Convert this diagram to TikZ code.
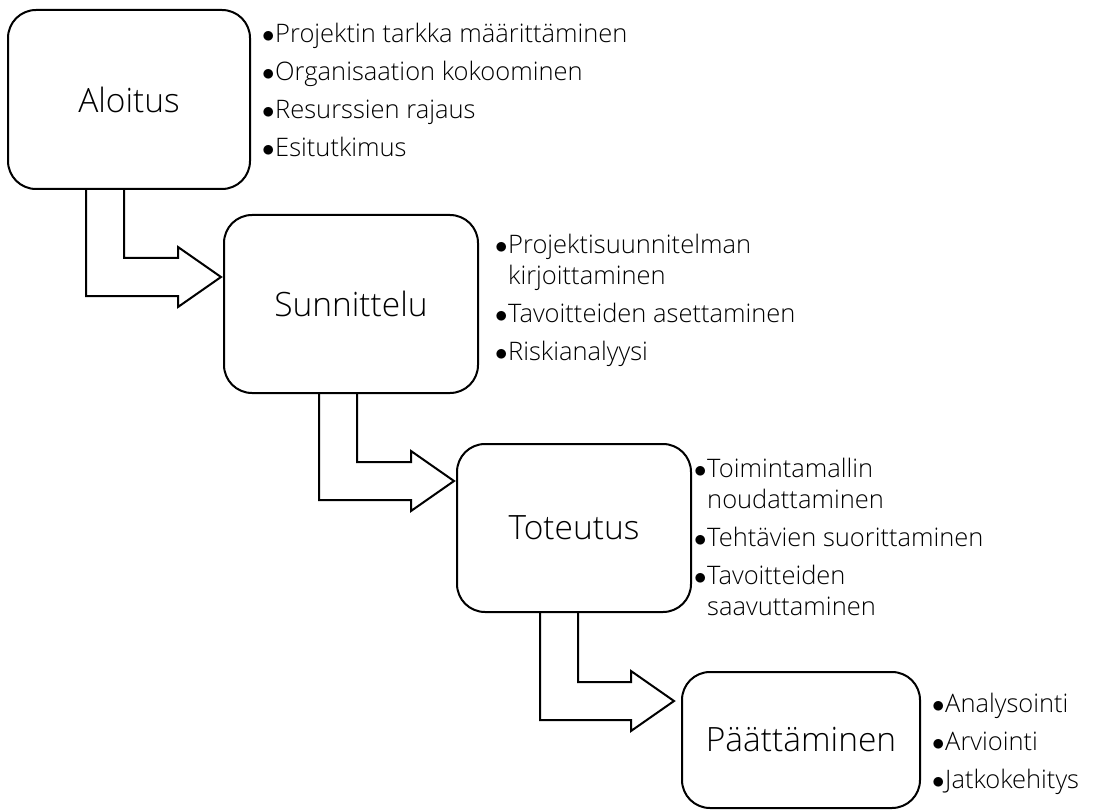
\documentclass[tikz,border=0pt]{standalone}
\usepackage{fontspec}
\IfFontExistsTF{Open Sans Light}{\setmainfont{Open Sans Light}}{\setmainfont{Open Sans}}
\usetikzlibrary{calc}
\newlength{\bw}
\setlength{\bw}{13pt}
\newcommand{\itm}[1]{\makebox[\bw][l]{$\bullet$}#1}
\newcommand{\cnt}[1]{\hspace*{\bw}#1}
\newcommand{\bentarr}[5]{%
	\draw[blockarrow] let \p1=($(#1.south west)+(#2,0)$), \p2=($(#3.west)+(#4,#5)$) in
	(\x1,\y1) -- (\x1,\y2-19pt) -- (\x2-43pt,\y2-19pt) -- (\x2-43pt,\y2-30pt) -- (\x2,\y2)
	-- (\x2-43pt,\y2+30pt) -- (\x2-43pt,\y2+19pt) -- (\x1+38pt,\y2+19pt) -- (\x1+38pt,\y1);}
\begin{document}
\begin{tikzpicture}[x=1pt,y=-1pt,
	phase/.style={draw,line width=2pt,rounded corners=28pt,inner sep=0pt,font=\fontsize{33.5}{38}\selectfont},
	items/.style={anchor=base west,inner sep=0pt,font=\fontsize{25.5}{31}\selectfont},
	blockarrow/.style={draw,line width=2pt,line join=miter}]
			\useasboundingbox (0,0) rectangle (1097,810);
			\node[phase,minimum width=242pt,minimum height=179pt] (aloitus) at (129,99.5) {Aloitus};
			\node[phase,minimum width=254pt,minimum height=178pt] (sunnittelu) at (351,304) {Sunnittelu};
			\node[phase,minimum width=234pt,minimum height=168pt] (toteutus) at (574,528) {Toteutus};
			\node[phase,minimum width=238pt,minimum height=136pt] (paattaminen) at (801,740) {Päättäminen};
			\node[items] (aloitus-list) at (262,43) {\parbox[t]{400pt}{\itm{Projektin tarkka määrittäminen}\\[7pt]
				\itm{Organisaation kokoominen}\\[7pt]\itm{Resurssien rajaus}\\[7pt]\itm{Esitutkimus}}};
			\node[items] (sunnittelu-list) at (495,254) {\parbox[t]{400pt}{\itm{Projektisuunnitelman}\\
				\cnt{kirjoittaminen}\\[7pt]\itm{Tavoitteiden asettaminen}\\[7pt]\itm{Riskianalyysi}}};
			\node[items] (toteutus-list) at (694,477) {\parbox[t]{400pt}{\itm{Toimintamallin}\\
				\cnt{noudattaminen}\\[7pt]\itm{Tehtävien suorittaminen}\\[7pt]\itm{Tavoitteiden}\\
				\cnt{saavuttaminen}}};
			\node[items] (paattaminen-list) at (932,712) {\parbox[t]{400pt}{\itm{Analysointi}\\[7pt]
				\itm{Arviointi}\\[7pt]\itm{Jatkokehitys}}};
			\bentarr{aloitus}{79}{sunnittelu}{-2}{-27}
			\bentarr{sunnittelu}{96}{toteutus}{-2}{-47}
			\bentarr{toteutus}{84}{paattaminen}{-7}{-39}
		\end{tikzpicture}
\end{document}
